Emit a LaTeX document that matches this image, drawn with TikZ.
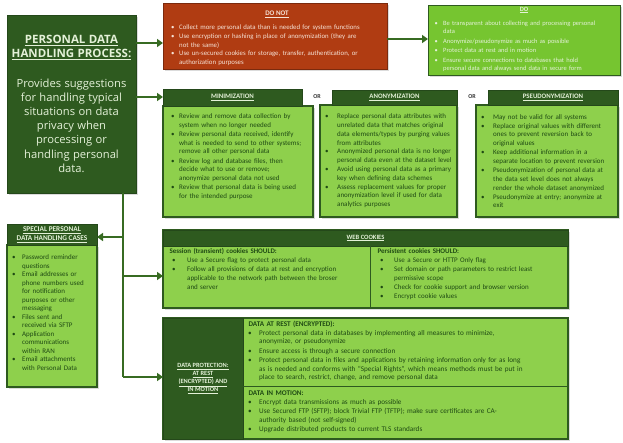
\documentclass[tikz,border=0pt]{standalone}
\usepackage{fontspec}
\setmainfont{Carlito}
\newfontfamily\titlefont{Open Sans}
\usetikzlibrary{arrows.meta,shadows}

\definecolor{dkgreen}{HTML}{2E5A1F}
\definecolor{edgegreen}{HTML}{24481A}
\definecolor{lightgreen}{HTML}{8ED04C}
\definecolor{dogreen}{HTML}{76C530}
\definecolor{dontred}{HTML}{B03C12}
\definecolor{paletext}{HTML}{E4F1D8}
\definecolor{dontext}{HTML}{F6E2D6}
\definecolor{bodytext}{HTML}{1F4A14}
\definecolor{linkgreen}{HTML}{376B22}

% bulleted paragraph with hanging indent
\newlength\bulind \newlength\itemgap \newlength\bulpre
\newcommand\bl[1]{\par\hangindent=\bulind\hangafter=1\noindent
  \hbox to\bulind{\hskip\bulpre\textbullet\hfil}#1\par\vskip\itemgap}

\begin{document}
\begin{tikzpicture}[x=1pt,y=-1pt,
  boxshadow/.style={drop shadow={opacity=0.28,shadow xshift=1.8pt,shadow yshift=-1.8pt}},
  panel/.style={anchor=north west, inner sep=0, outer sep=0},
  darkpanel/.style={panel, fill=dkgreen, draw=edgegreen, line width=0.8pt},
  lightpanel/.style={panel, fill=lightgreen, draw=dkgreen, line width=1.2pt},
  list/.style={anchor=north west, inner sep=0, align=left, text=bodytext},
  headtext/.style={text=paletext, inner sep=0, align=center},
  orlabel/.style={text=black!80, inner sep=0, font=\fontsize{6}{7}\selectfont\bfseries},
  conn/.style={draw=linkgreen, line width=2.6pt, -{Triangle[length=6pt,width=8pt]}},
  trunk/.style={draw=linkgreen, line width=2.6pt},
]
\useasboundingbox[fill=white] (0,0) rectangle (623,442);

% ---------- title box ----------
\node[darkpanel, boxshadow, minimum width=129pt, minimum height=178pt,
      text width=127pt, align=center, text=paletext] (title) at (7,15)
  {{\titlefont\fontsize{11.5}{14}\bfseries\selectfont
    \underline{PERSONAL DATA}\\\underline{HANDLING PROCESS:}\par}
   \vspace{15pt}
   {\titlefont\fontsize{11.2}{14.2}\selectfont
    Provides suggestions\\ for handling typical\\ situations on data\\
    privacy when\\ processing or\\ handling personal\\ data.\par}};

% ---------- DO NOT / DO ----------
\node[panel, boxshadow, fill=dontred, draw=dontred!70!black, line width=0.6pt,
      minimum width=224pt, minimum height=66pt] (dont) at (163,3) {};
\node[headtext, text=dontext, font=\fontsize{7}{8}\selectfont\bfseries] (donthead)
  at (277,14) {\underline{DO NOT}};
\node[list, text=dontext, text width=220pt, font=\fontsize{6.8}{8.8}\selectfont] (dontlist) at (171,20.5)
  {\setlength\bulind{8pt}\setlength\itemgap{0pt}
   \bl{Collect more personal data than is needed for system functions}
   \bl{Use encryption or hashing in place of anonymization (they are\newline not the same)}
   \bl{Use un-secured cookies for storage, transfer, authentication, or\newline authorization purposes}};

\node[panel, boxshadow, fill=dogreen, draw=dkgreen, line width=1pt,
      minimum width=192pt, minimum height=70pt] (do) at (428,5) {};
\node[headtext, font=\fontsize{6.5}{7}\selectfont\bfseries] (dohead) at (524,10) {\underline{DO}};
\node[list, text=paletext, text width=190pt, font=\fontsize{6.5}{8.2}\selectfont] (dolist) at (434.5,17)
  {\setlength\bulind{8.5pt}\setlength\itemgap{1.4pt}
   \bl{Be transparent about collecting and processing personal\newline data}
   \bl{Anonymize/pseudonymize as much as possible}
   \bl{Protect data at rest and in motion}
   \bl{Ensure secure connections to databases that hold\newline personal data and always send data in secure form}};

% ---------- minimization / anonymization / pseudonymization ----------
\node[lightpanel, boxshadow, minimum width=150pt, minimum height=111pt] (minbody) at (163,106) {};
\node[darkpanel, minimum width=139pt, minimum height=17pt] (minhead) at (163,89) {};
\node[headtext, font=\fontsize{6.8}{8}\selectfont\bfseries] (mintitle) at (minhead.center) {\underline{MINIMIZATION}};
\node[list, text width=150pt, font=\fontsize{7}{8.6}\selectfont] (minlist) at (171,110)
  {\setlength\bulind{8pt}\setlength\itemgap{0.6pt}
   \bl{Review and remove data collection by\newline system when no longer needed}
   \bl{Review personal data received, identify\newline what is needed to send to other systems;\newline remove all other personal data}
   \bl{Review log and database files, then\newline decide what to use or remove;\newline anonymize personal data not used}
   \bl{Review that personal data is being used\newline for the intended purpose}};

\node[orlabel] (or1) at (317,97) {OR};

\node[lightpanel, boxshadow, minimum width=137pt, minimum height=112pt] (anonbody) at (320,105) {};
\node[darkpanel, minimum width=125pt, minimum height=15pt] (anonhead) at (332,90) {};
\node[headtext, font=\fontsize{6.8}{8}\selectfont\bfseries] (anontitle) at (anonhead.center) {\underline{ANONYMIZATION}};
\node[list, text width=150pt, font=\fontsize{7}{8.7}\selectfont] (anonlist) at (325,110)
  {\setlength\bulind{12pt}\setlength\itemgap{0.2pt}
   \bl{Replace personal data attributes with\newline unrelated data that matches original\newline data elements/types by purging values\newline from attributes}
   \bl{Anonymized personal data is no longer\newline personal data even at the dataset level}
   \bl{Avoid using personal data as a primary\newline key when defining data schemes}
   \bl{Assess replacement values for proper\newline anonymization level if used for data\newline analytics purposes}};

\node[orlabel] (or2) at (472,97) {OR};

\node[lightpanel, boxshadow, minimum width=142pt, minimum height=112pt] (pseudobody) at (476,105) {};
\node[darkpanel, minimum width=130pt, minimum height=15pt] (pseudohead) at (488,90) {};
\node[headtext, font=\fontsize{6.8}{8}\selectfont\bfseries] (pseudotitle) at (pseudohead.center) {\underline{PSEUDONYMIZATION}};
\node[list, text width=150pt, font=\fontsize{7}{8.8}\selectfont] (pseudolist) at (481,110)
  {\setlength\bulind{12pt}\setlength\itemgap{0.2pt}
   \bl{May not be valid for all systems}
   \bl{Replace original values with different\newline ones to prevent reversion back to\newline original values}
   \bl{Keep additional information in a\newline separate location to prevent reversion}
   \bl{Pseudonymization of personal data at\newline the data set level does not always\newline render the whole dataset anonymized}
   \bl{Pseudonymize at entry; anonymize at\newline exit}};

% ---------- special handling cases ----------
\node[lightpanel, boxshadow, minimum width=90pt, minimum height=142pt] (specbody) at (7,245) {};
\node[darkpanel, minimum width=90pt, minimum height=21pt] (spechead) at (7,224) {};
\node[headtext, font=\fontsize{7.3}{8.8}\selectfont\bfseries] (spectitle) at (spechead.center)
  {\underline{SPECIAL PERSONAL}\\\underline{DATA HANDLING CASES}};
\node[list, text width=90pt, font=\fontsize{7}{8.5}\selectfont] (speclist) at (12,251)
  {\setlength\bulind{10pt}\setlength\itemgap{0pt}
   \bl{Password reminder\newline questions}
   \bl{Email addresses or\newline phone numbers used\newline for notification\newline purposes or other\newline messaging}
   \bl{Files sent and\newline received via SFTP}
   \bl{Application\newline communications\newline within RAN}
   \bl{Email attachments\newline with Personal Data}};

% ---------- web cookies ----------
\node[lightpanel, boxshadow, minimum width=405pt, minimum height=78pt] (webbox) at (163,230) {};
\node[darkpanel, minimum width=405pt, minimum height=16pt] (webhead) at (163,230) {};
\node[headtext, font=\fontsize{6.5}{8}\selectfont\bfseries] (webtitle) at (webhead.center) {\underline{WEB COOKIES}};
\draw[dkgreen, line width=1pt] (370,246) -- (370,308);
\node[list, text width=205pt, font=\fontsize{7}{9}\selectfont] (sessionlist) at (167,248.5)
  {\setlength\bulpre{5pt}\setlength\bulind{20pt}\setlength\itemgap{0pt}
   \noindent\textbf{Session (transient) cookies SHOULD:}\par
   \bl{Use a Secure flag to protect personal data}
   \bl{Follow all provisions of data at rest and encryption\newline applicable to the network path between the broser\newline and server}};
\node[list, text width=200pt, font=\fontsize{7}{9}\selectfont] (persistlist) at (375,248.5)
  {\setlength\bulpre{5pt}\setlength\bulind{19pt}\setlength\itemgap{0pt}
   \noindent\textbf{Persistent cookies SHOULD:}\par
   \bl{Use a Secure or HTTP Only flag}
   \bl{Set domain or path parameters to restrict least\newline permissive scope}
   \bl{Check for cookie support and browser version}
   \bl{Encrypt cookie values}};

% ---------- data protection ----------
\node[lightpanel, boxshadow, minimum width=405pt, minimum height=121pt] (dpbox) at (163,318) {};
\node[darkpanel, minimum width=80pt, minimum height=121pt] (dppanel) at (163,318) {};
\node[headtext, font=\fontsize{6.4}{8.1}\selectfont\bfseries] (dptitle) at (dppanel.center)
  {\underline{DATA PROTECTION:}\\\underline{AT REST}\\\underline{(ENCRYPTED) AND}\\\underline{IN MOTION}};
\draw[dkgreen, line width=1pt] (243,386) -- (568,386);
\node[list, text width=330pt, font=\fontsize{7.2}{8.1}\selectfont] (restlist) at (246,320.5)
  {\setlength\bulpre{2pt}\setlength\bulind{13pt}\setlength\itemgap{1.5pt}
   \noindent\textbf{DATA AT REST (ENCRYPTED):}\par\vskip1.5pt
   \bl{Protect personal data in databases by implementing all measures to minimize,\newline anonymize, or pseudonymize}
   \bl{Ensure access is through a secure connection}
   \bl{Protect personal data in files and applications by retaining information only for as long\newline as is needed and conforms with ``Special Rights'', which means methods must be put in\newline place to search, restrict, change, and remove personal data}};
\node[list, text width=330pt, font=\fontsize{7.2}{8.5}\selectfont] (motionlist) at (246,390.5)
  {\setlength\bulpre{2pt}\setlength\bulind{13pt}\setlength\itemgap{1pt}
   \noindent\textbf{DATA IN MOTION:}\par\vskip0.5pt
   \bl{Encrypt data transmissions as much as possible}
   \bl{Use Secured FTP (SFTP); block Trivial FTP (TFTP); make sure certificates are CA-\newline authority based (not self-signed)}
   \bl{Upgrade distributed products to current TLS standards}};

% ---------- connectors ----------
\coordinate (trunkend) at (123,377);
\coordinate (jspec) at (123,237);
\coordinate (jweb) at (123,276);
\draw[conn] (title.east |- 0,43) -- (dont.west |- 0,43);
\draw[conn] (dont.east |- 0,39) -- (do.west |- 0,39);
\draw[conn] (title.east |- 0,97) -- (minhead.west |- 0,97);
\draw[trunk] (title.south -| trunkend) -- (trunkend);
\draw[conn] (jspec) -- (spechead.east |- jspec);
\draw[conn] (jweb) -- (webbox.west |- jweb);
\draw[conn] (trunkend) -- (dpbox.west |- trunkend);
\end{tikzpicture}
\end{document}
